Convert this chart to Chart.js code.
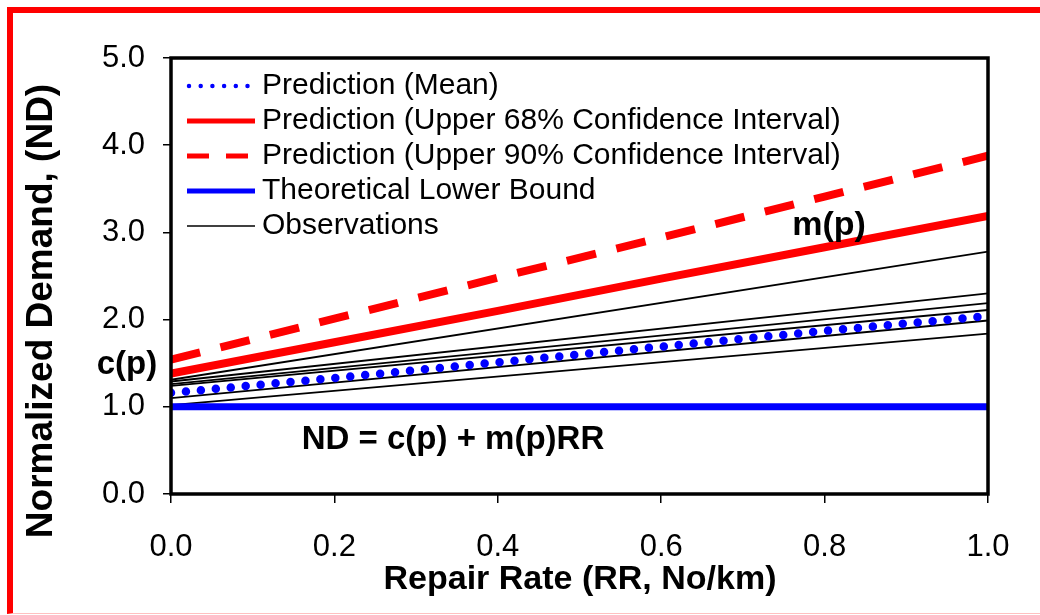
<!DOCTYPE html>
<html>
<head>
<meta charset="utf-8">
<script src="https://cdn.jsdelivr.net/npm/chart.js@4.4.1/dist/chart.umd.min.js"></script>
<style>
  body { margin: 0; background: #fff; }
  #wrap { position: relative; width: 1040px; height: 615px; overflow: hidden; }
  #frame {
    position: absolute; left: 7px; top: 7px; width: 1100px; height: 600px;
    border-left: 6px solid #ff0000; border-top: 6px solid #ff0000;
    border-bottom: 1px solid #ffc0c0; pointer-events: none;
  }
  canvas { position: absolute; left: 0; top: 0; }
</style>
</head>
<body>
<div id="wrap">
  <canvas id="ndChart" width="1040" height="615"></canvas>
  <div id="frame"></div>
</div>
<script>
// Repair rate values (x) and normalized demand (y)
const rrPred = [0, 0.2, 0.4, 0.6, 0.8, 1.0];
const meanND = [1.16, 1.33, 1.51, 1.69, 1.87, 2.04];
const upper68ND = [1.38, 1.74, 2.10, 2.47, 2.83, 3.19];
const upper90ND = [1.54, 2.01, 2.48, 2.94, 3.41, 3.88];

const rrBound = [0, 1.0];
const lowerBoundND = [1.0, 1.0];

const rrObs = [0, 1.0];
const obs1 = [1.31, 2.78];
const obs2 = [1.29, 2.30];
const obs3 = [1.26, 2.19];
const obs4 = [1.24, 2.11];
const obs5 = [1.10, 1.99];
const obs6 = [1.02, 1.84];

const xTicks = [0, 0.2, 0.4, 0.6, 0.8, 1.0];
const yTicks = [0, 1, 2, 3, 4, 5];

const seriesLabels = [
    'Prediction (Mean)',
    'Prediction (Upper 68% Confidence Interval)',
    'Prediction (Upper 90% Confidence Interval)',
    'Theoretical Lower Bound',
    'Observations'
];

const FONT = "'Liberation Sans', Arial, sans-serif";

function pts(xs, ys) {
    return xs.map((x, i) => ({ x: x, y: ys[i] }));
}

function obsSet(ys) {
    return {
        label: 'Observations',
        data: pts(rrObs, ys),
        borderColor: '#000000',
        borderWidth: 1.8,
        pointRadius: 0
    };
}

// Legend, frame and text labels drawn on the canvas
const extrasPlugin = {
    id: 'extras',
    afterDatasetsDraw(chart) {
        const ctx = chart.ctx;
        const a = chart.chartArea;
        ctx.save();

        // plot frame
        ctx.strokeStyle = '#000';
        ctx.lineWidth = 3.5;
        ctx.strokeRect(a.left, a.top, a.right - a.left, a.bottom - a.top);

        // legend
        const styles = [
            { color: '#0000ff', width: 4.5, dash: [0, 11.7], cap: 'round' },
            { color: '#ff0000', width: 5, dash: [], cap: 'butt' },
            { color: '#ff0000', width: 5, dash: [22, 17], cap: 'butt' },
            { color: '#0000ff', width: 5, dash: [], cap: 'butt' },
            { color: '#000000', width: 1.5, dash: [], cap: 'butt' }
        ];
        ctx.font = '30px ' + FONT;
        ctx.textBaseline = 'middle';
        ctx.textAlign = 'left';
        seriesLabels.forEach((lab, i) => {
            const y = 86 + i * 35;
            const s = styles[i];
            ctx.beginPath();
            ctx.strokeStyle = s.color;
            ctx.lineWidth = s.width;
            ctx.setLineDash(s.dash);
            ctx.lineCap = s.cap;
            ctx.moveTo(i === 0 ? 189 : 187, y);
            ctx.lineTo(255, y);
            ctx.stroke();
            ctx.setLineDash([]);
            ctx.fillStyle = '#000';
            ctx.fillText(lab, 262, y);
        });

        // annotations
        ctx.textAlign = 'center';
        ctx.font = 'bold 34px ' + FONT;
        ctx.fillText('m(p)', 829, 226);
        ctx.font = 'bold 33px ' + FONT;
        ctx.fillText('c(p)', 127, 365);
        ctx.fillText('ND = c(p) + m(p)RR', 453, 440);

        // axis titles
        ctx.font = 'bold 34px ' + FONT;
        ctx.fillText('Repair Rate (RR, No/km)', 580, 580);
        ctx.save();
        ctx.translate(42, 311);
        ctx.rotate(-Math.PI / 2);
        ctx.font = 'bold 37px ' + FONT;
        ctx.fillText('Normalized Demand, (ND)', 0, 0);
        ctx.restore();

        ctx.restore();
    }
};

const ctx = document.getElementById('ndChart').getContext('2d');
new Chart(ctx, {
    type: 'line',
    data: {
        datasets: [
            {
                label: seriesLabels[0],
                data: pts(rrPred, meanND),
                borderColor: '#0000ff',
                borderWidth: 8.5,
                borderDash: [0, 15],
                borderCapStyle: 'round',
                pointRadius: 0
            },
            {
                label: seriesLabels[1],
                data: pts(rrPred, upper68ND),
                borderColor: '#ff0000',
                borderWidth: 8,
                pointRadius: 0
            },
            {
                label: seriesLabels[2],
                data: pts(rrPred, upper90ND),
                borderColor: '#ff0000',
                borderWidth: 8,
                borderDash: [30, 21],
                pointRadius: 0
            },
            {
                label: seriesLabels[3],
                data: pts(rrBound, lowerBoundND),
                borderColor: '#0000ff',
                borderWidth: 7,
                pointRadius: 0
            },
            obsSet(obs1),
            obsSet(obs2),
            obsSet(obs3),
            obsSet(obs4),
            obsSet(obs5),
            obsSet(obs6)
        ]
    },
    options: {
        responsive: false,
        animation: false,
        devicePixelRatio: 1,
        layout: { padding: { left: 0, top: 58, right: 52, bottom: 0 } },
        plugins: {
            legend: { display: false },
            tooltip: { enabled: false }
        },
        scales: {
            x: {
                type: 'linear',
                min: 0,
                max: 1,
                afterBuildTicks: (scale) => { scale.ticks = xTicks.map(v => ({ value: v })); },
                afterFit: (scale) => { scale.height = 121; },
                border: { display: false },
                grid: { drawOnChartArea: false, drawTicks: true, tickLength: 9, color: '#000', lineWidth: 1.5 },
                ticks: {
                    color: '#000',
                    padding: 26,
                    maxRotation: 0,
                    font: { family: FONT, size: 31 },
                    callback: (v) => Number(v).toFixed(1)
                }
            },
            y: {
                min: 0,
                max: 5,
                afterBuildTicks: (scale) => { scale.ticks = yTicks.map(v => ({ value: v })); },
                afterFit: (scale) => { scale.width = 171; },
                border: { display: false },
                grid: { drawOnChartArea: false, drawTicks: true, tickLength: 8, color: '#000', lineWidth: 1.5 },
                ticks: {
                    color: '#000',
                    padding: 18,
                    font: { family: FONT, size: 31 },
                    callback: (v) => Number(v).toFixed(1)
                }
            }
        }
    },
    plugins: [extrasPlugin]
});
</script>
</body>
</html>
